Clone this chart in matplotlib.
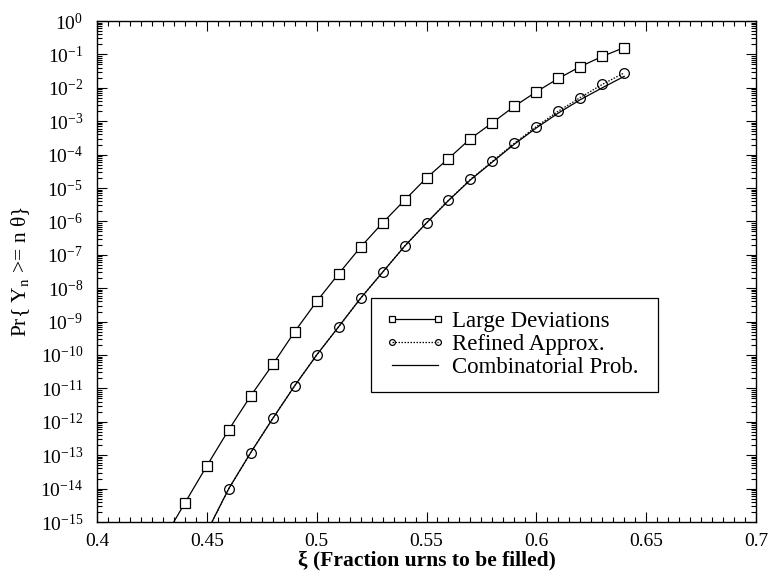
import numpy as np
import matplotlib
matplotlib.use("Agg")
import matplotlib.pyplot as plt
from matplotlib.ticker import LogLocator, MultipleLocator, NullFormatter, FuncFormatter

plt.rcParams["font.family"] = ["Liberation Serif", "DejaVu Serif"]
plt.rcParams["mathtext.fontset"] = "stix"

# Large deviations estimate (first point falls below the axis and is clipped)
xi_ld = [0.43, 0.44, 0.45, 0.46, 0.47, 0.48, 0.49, 0.50, 0.51, 0.52, 0.53,
         0.54, 0.55, 0.56, 0.57, 0.58, 0.59, 0.60, 0.61, 0.62, 0.63, 0.64]
p_ld = [2.8e-16, 3.7e-15, 4.8e-14, 5.8e-13, 6.0e-12, 5.2e-11, 5.0e-10, 4.0e-9,
        2.7e-8, 1.7e-7, 9.0e-7, 4.3e-6, 2.0e-5, 7.6e-5, 3.0e-4, 9.0e-4,
        2.8e-3, 7.6e-3, 1.9e-2, 4.3e-2, 8.7e-2, 0.16]

# Refined approximation
xi_ref = [0.45, 0.46, 0.47, 0.48, 0.49, 0.50, 0.51, 0.52, 0.53, 0.54, 0.55,
          0.56, 0.57, 0.58, 0.59, 0.60, 0.61, 0.62, 0.63, 0.64]
p_ref = [5.0e-16, 1.0e-14, 1.2e-13, 1.26e-12, 1.2e-11, 1.0e-10, 7.0e-10, 5.0e-9,
         3.0e-8, 1.8e-7, 9.0e-7, 4.3e-6, 1.8e-5, 6.3e-5, 2.2e-4, 6.9e-4,
         2.0e-3, 5.1e-3, 1.26e-2, 2.8e-2]

# Combinatorial (exact) probability
xi_comb = [0.45, 0.46, 0.47, 0.48, 0.49, 0.50, 0.51, 0.52, 0.53, 0.54, 0.55,
           0.56, 0.57, 0.58, 0.59, 0.60, 0.61, 0.62, 0.63, 0.64]
p_comb = [5.0e-16, 1.0e-14, 1.2e-13, 1.25e-12, 1.2e-11, 1.0e-10, 7.0e-10, 5.0e-9,
          3.0e-8, 1.8e-7, 9.0e-7, 4.2e-6, 1.75e-5, 6.0e-5, 2.05e-4, 6.3e-4,
          1.75e-3, 4.4e-3, 1.0e-2, 2.2e-2]

fig = plt.figure(figsize=(7.71, 5.74), dpi=100)
ax = fig.add_axes([97 / 771, 52 / 574, 659 / 771, 501 / 574])

ax.plot(xi_ld, p_ld, color="black", lw=0.9, marker="s", ms=6.5,
        mfc="white", mec="black", mew=0.9, label="Large Deviations")
ax.plot(xi_ref, p_ref, color="black", lw=0.9, ls=(0, (1.2, 1.2)), marker="o",
        ms=7, mfc="none", mec="black", mew=0.9, label="Refined Approx.")
ax.plot(xi_comb, p_comb, color="black", lw=0.9, label="Combinatorial Prob.")

ax.set_yscale("log")
ax.set_xlim(0.4, 0.7)
ax.set_ylim(1e-15, 1)
ax.xaxis.set_major_locator(MultipleLocator(0.05))
ax.xaxis.set_minor_locator(MultipleLocator(0.005))
ax.xaxis.set_major_formatter(FuncFormatter(lambda v, pos: f"{v:g}"))
ax.yaxis.set_major_locator(LogLocator(base=10, numticks=20))
ax.yaxis.set_minor_locator(LogLocator(base=10, subs=np.arange(2, 10), numticks=200))
ax.yaxis.set_minor_formatter(NullFormatter())

ax.tick_params(which="both", direction="in", top=True, right=True,
               labelsize=14, width=0.8)
ax.tick_params(which="major", length=7)
ax.tick_params(which="minor", length=3.5)
ax.tick_params(axis="x", pad=8)
ax.tick_params(axis="y", pad=10)
for s in ax.spines.values():
    s.set_linewidth(1.0)

ax.set_xlabel(r"ξ (Fraction urns to be filled)", fontsize=15.5,
              fontweight="bold", labelpad=0)
ax.set_ylabel(r"Pr{ Y$_{\mathrm{n}}$ >= n θ}", fontsize=15.5, labelpad=6)

leg = ax.legend(loc="upper left", bbox_to_anchor=(0.416, 0.448, 0.435, 0.0),
                mode="expand", fontsize=16.5, frameon=True, fancybox=False,
                edgecolor="black", framealpha=1, numpoints=2, markerscale=0.6,
                handlelength=2.6, handletextpad=0.35, borderaxespad=0,
                labelspacing=0.08, borderpad=0.6)
leg.get_frame().set_linewidth(0.9)

fig.savefig("out.png", dpi=100)
